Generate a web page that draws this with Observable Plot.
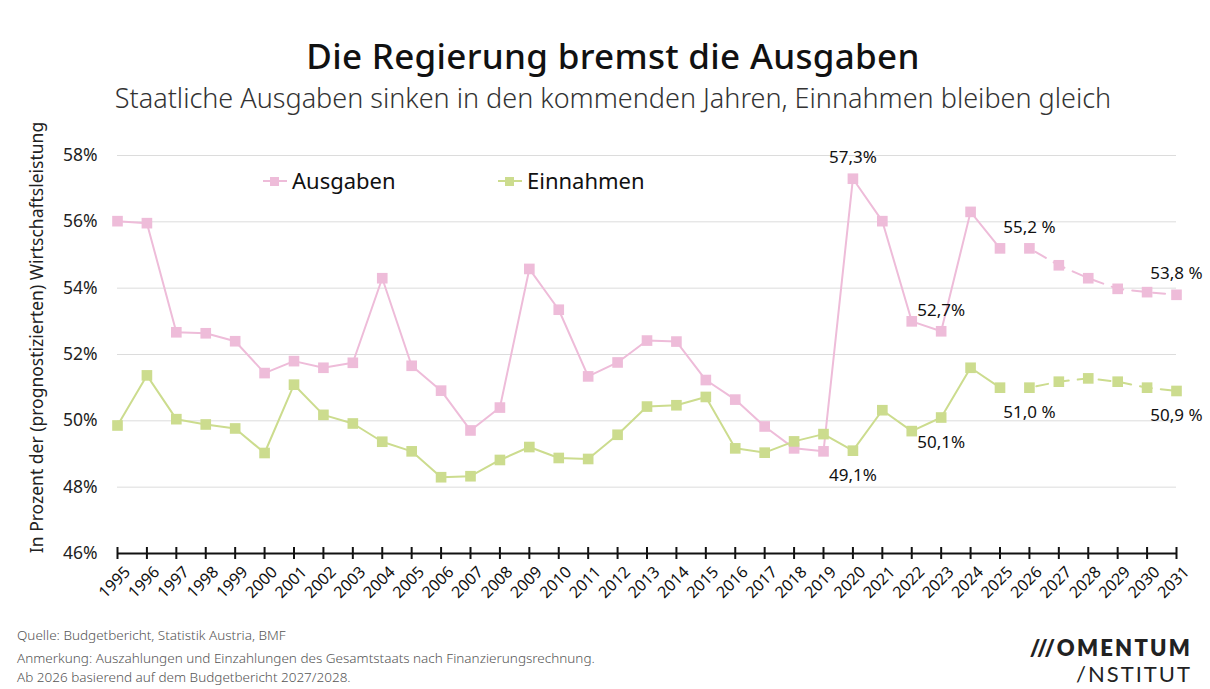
<!DOCTYPE html>
<html>
<head>
<meta charset="utf-8">
<script src="https://cdn.jsdelivr.net/npm/d3@7"></script>
<script src="https://cdn.jsdelivr.net/npm/@observablehq/plot@0.6"></script>
<style>
  html, body { margin: 0; padding: 0; background: #fff; }
  body { width: 1210px; height: 689px; position: relative; overflow: hidden; font-family: "Noto Sans", Lato, sans-serif; color: #111; }
  .abs { position: absolute; white-space: nowrap; line-height: 1.15; }
  #title { left: 0; width: 1226px; top: 36px; text-align: center; font-size: 35px; font-weight: 500; letter-spacing: 0.3px; color: #111; }
  #subtitle { left: 0; width: 1226px; top: 82px; text-align: center; font-size: 27px; font-weight: 300; color: #333; }
  #chart { position: absolute; left: 0; top: 120px; }
  #chart svg { overflow: visible; }
  .leg { top: 168px; font-size: 22px; color: #111; display: flex; align-items: center; }
  .leg svg { margin-right: 3px; }
  .foot { left: 17px; font-size: 13.5px; font-weight: 300; color: #555; }
  #logo1 { right: 18px; top: 637px; font-family: Lato, sans-serif; font-size: 22px; font-weight: 800; letter-spacing: 2.2px; color: #222; line-height: 1; }
  #logo2 { right: 18px; top: 663px; font-family: Lato, sans-serif; font-size: 22px; font-weight: 400; letter-spacing: 2px; color: #222; line-height: 1; }
</style>
</head>
<body>
<div id="title" class="abs">Die Regierung bremst die Ausgaben</div>
<div id="subtitle" class="abs">Staatliche Ausgaben sinken in den kommenden Jahren, Einnahmen bleiben gleich</div>
<div id="chart"></div>
<div class="abs leg" style="left:263px"><svg width="26" height="12"><line x1="0" y1="6" x2="24" y2="6" stroke="#eebcd9" stroke-width="2"/><rect x="7" y="2" width="9" height="9" fill="#eebcd9"/></svg><span>Ausgaben</span></div>
<div class="abs leg" style="left:498px"><svg width="26" height="12"><line x1="0" y1="6" x2="24" y2="6" stroke="#ccdc8e" stroke-width="2"/><rect x="7" y="2" width="9" height="9" fill="#ccdc8e"/></svg><span>Einnahmen</span></div>
<div class="abs foot" style="top:628px">Quelle: Budgetbericht, Statistik Austria, BMF</div>
<div class="abs foot" style="top:651px">Anmerkung: Auszahlungen und Einzahlungen des Gesamtstaats nach Finanzierungsrechnung.</div>
<div class="abs foot" style="top:670px">Ab 2026 basierend auf dem Budgetbericht 2027/2028.</div>
<div id="logo1" class="abs">///OMENTUM</div>
<div id="logo2" class="abs">/NSTITUT</div>
<script>
// ---- data ----
const years = [1995,1996,1997,1998,1999,2000,2001,2002,2003,2004,2005,2006,2007,2008,2009,2010,2011,2012,2013,2014,2015,2016,2017,2018,2019,2020,2021,2022,2023,2024,2025,2026,2027,2028,2029,2030,2031];
const ausgaben = [56.02,55.96,52.67,52.64,52.40,51.44,51.80,51.60,51.75,54.30,51.66,50.91,49.71,50.40,54.58,53.35,51.34,51.76,52.42,52.39,51.23,50.64,49.83,49.17,49.08,57.30,56.02,53.00,52.70,56.30,55.20,55.20,54.69,54.30,53.98,53.88,53.80];
const einnahmen = [49.86,51.37,50.05,49.89,49.77,49.03,51.09,50.18,49.92,49.37,49.08,48.30,48.33,48.82,49.21,48.88,48.85,49.58,50.43,50.47,50.72,49.17,49.04,49.38,49.60,49.10,50.32,49.69,50.10,51.60,51.00,51.00,51.18,51.28,51.18,51.00,50.90];
const forecastStart = 2026;
const yTicks = [46,48,50,52,54,56,58];
const seriesNames = ["Ausgaben", "Einnahmen"];
const colors = ["#eebcd9", "#ccdc8e"];
const labelsAbove = [
  {series: "Ausgaben", year: 2020, label: "57,3%"},
  {series: "Ausgaben", year: 2023, label: "52,7%"},
  {series: "Ausgaben", year: 2026, label: "55,2 %"},
  {series: "Ausgaben", year: 2031, label: "53,8 %"}
];
const labelsBelow = [
  {series: "Einnahmen", year: 2020, label: "49,1%"},
  {series: "Einnahmen", year: 2023, label: "50,1%"},
  {series: "Einnahmen", year: 2026, label: "51,0 %"},
  {series: "Einnahmen", year: 2031, label: "50,9 %"}
];
const yLabel = "In Prozent der (prognostizierten) Wirtschaftsleistung";

// ---- build table ----
const rows = [];
years.forEach((y, i) => {
  rows.push({series: "Ausgaben", year: y, value: ausgaben[i]});
  rows.push({series: "Einnahmen", year: y, value: einnahmen[i]});
});
const lookup = (s, y) => rows.find(r => r.series === s && r.year === y).value;
const ann = arr => arr.map(a => ({...a, value: lookup(a.series, a.year)}));
const actual = rows.filter(r => r.year < forecastStart);
const forecast = rows.filter(r => r.year >= forecastStart);

const chart = Plot.plot({
  width: 1210,
  height: 505,
  marginTop: 35,
  marginBottom: 72,
  marginLeft: 117,
  marginRight: 34,
  style: {fontFamily: "'Noto Sans', Lato, sans-serif", background: "transparent", overflow: "visible"},
  x: {domain: [1995, 2031], axis: null},
  y: {domain: [46, 58], axis: null},
  color: {domain: seriesNames, range: colors},
  marks: [
    Plot.ruleY(yTicks.filter(t => t > 46), {y: d => d, stroke: "#dcdcdc", strokeWidth: 1}),
    Plot.text(yTicks, {x: 1995, y: d => d, text: d => d + "%", textAnchor: "end", dx: -20, fontSize: 17.5, fill: "#222"}),
    Plot.text([yLabel], {frameAnchor: "left", textAnchor: "middle", dx: -80, dy: -17, rotate: -90, text: d => d, fontSize: 17.5, fill: "#222"}),
    Plot.line(actual, {x: "year", y: "value", stroke: "series", strokeWidth: 2, z: "series"}),
    Plot.line(forecast, {x: "year", y: "value", stroke: "series", strokeWidth: 2, z: "series", strokeDasharray: "12,9", strokeDashoffset: -7}),
    Plot.dot(rows, {x: "year", y: "value", fill: "series", symbol: "square", r: 6}),
    Plot.ruleY([46], {stroke: "#111", strokeWidth: 2.2}),
    Plot.ruleX(years, {x: d => d, y1: 46, y2: 46, insetTop: -6, insetBottom: -6, stroke: "#111", strokeWidth: 2}),
    Plot.text(years, {x: d => d, y: 46, text: d => String(d), rotate: -45, textAnchor: "end", dx: 10, dy: 16, fontSize: 16, fill: "#111"}),
    Plot.text(ann(labelsAbove), {x: "year", y: "value", text: "label", dy: -21, fontSize: 17, fill: "#111"}),
    Plot.text(ann(labelsBelow), {x: "year", y: "value", text: "label", dy: 25, fontSize: 17, fill: "#111"})
  ]
});
document.getElementById("chart").appendChild(chart);
</script>
</body>
</html>
